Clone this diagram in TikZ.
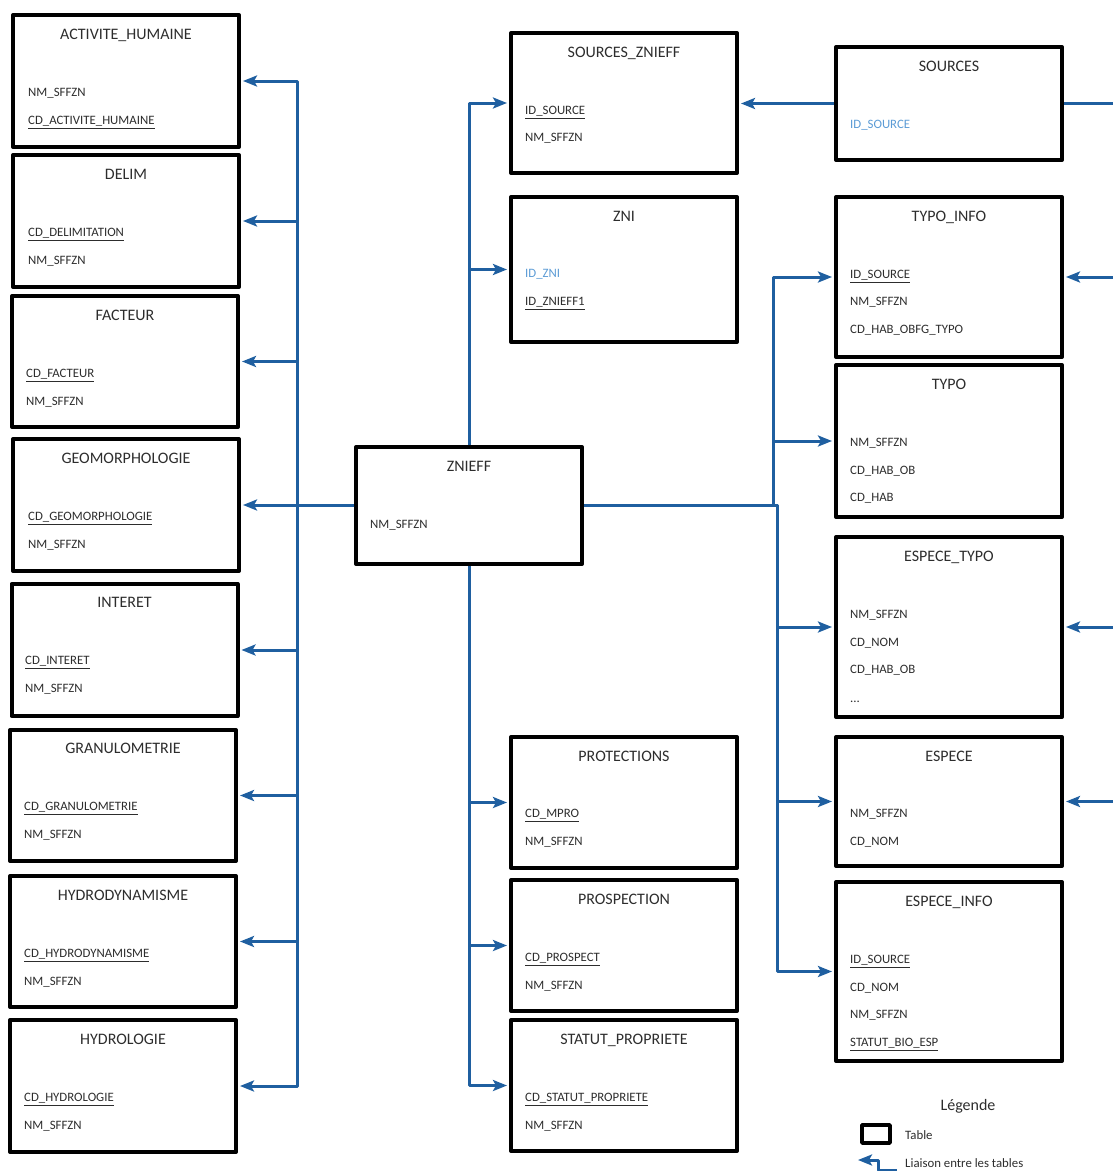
\documentclass[tikz,border=0pt]{standalone}
\usepackage{fontspec}
\setmainfont{Carlito}
\usetikzlibrary{arrows.meta,positioning}
\definecolor{lienbleu}{RGB}{31,95,160}
\definecolor{clebleu}{RGB}{91,155,213}
\definecolor{texte}{RGB}{45,45,45}
\newcommand{\cle}[1]{\underline{#1}}

\begin{document}
\begin{tikzpicture}[x=1pt, y=-1pt, line join=round,
  tbl/.style={draw, line width=4pt, minimum width=226pt, inner sep=0pt},
  ttl/.style={text=texte, font=\fontsize{16}{19}\selectfont, inner sep=0pt, anchor=mid, yshift=-3pt},
  fld/.style={text=texte, font=\fontsize{12.8}{15}\selectfont, inner sep=0pt, anchor=mid west, yshift=-2.5pt},
  kfld/.style={fld, text=clebleu},
  lnk/.style={draw=lienbleu, line width=3pt, -{Stealth[length=14pt,width=11pt,inset=3pt]}, shorten >=2pt},
  bus/.style={draw=lienbleu, line width=3pt}]
\useasboundingbox (0,0) rectangle (1113,1171);

% colonne de gauche
\node[tbl, minimum height=132pt] (act) at (126,81) {};
\node[ttl] (act-t) at (126,34) {ACTIVITE\_HUMAINE};
\node[fld] (act-a) at (28,92) {NM\_SFFZN};
\node[fld] (act-b) at (28,120) {\cle{CD\_ACTIVITE\_HUMAINE}};

\node[tbl, minimum height=132pt] (delim) at (126,221) {};
\node[ttl] (delim-t) at (126,174) {DELIM};
\node[fld] (delim-a) at (28,232) {\cle{CD\_DELIMITATION}};
\node[fld] (delim-b) at (28,260) {NM\_SFFZN};

\node[tbl, minimum height=131pt] (fact) at (125,361.5) {};
\node[ttl] (fact-t) at (125,315) {FACTEUR};
\node[fld] (fact-a) at (26,373) {\cle{CD\_FACTEUR}};
\node[fld] (fact-b) at (26,401) {NM\_SFFZN};

\node[tbl, minimum height=132pt] (geo) at (126,505) {};
\node[ttl] (geo-t) at (126,458) {GEOMORPHOLOGIE};
\node[fld] (geo-a) at (28,516) {\cle{CD\_GEOMORPHOLOGIE}};
\node[fld] (geo-b) at (28,544) {NM\_SFFZN};

\node[tbl, minimum height=132pt] (inter) at (124.5,650) {};
\node[ttl] (inter-t) at (124.5,602) {INTERET};
\node[fld] (inter-a) at (25,660) {\cle{CD\_INTERET}};
\node[fld] (inter-b) at (25,688) {NM\_SFFZN};

\node[tbl, minimum height=131pt] (granu) at (123,795.5) {};
\node[ttl] (granu-t) at (123,748) {GRANULOMETRIE};
\node[fld] (granu-a) at (24,806) {\cle{CD\_GRANULOMETRIE}};
\node[fld] (granu-b) at (24,834) {NM\_SFFZN};

\node[tbl, minimum height=131pt] (hdyn) at (123,941.5) {};
\node[ttl] (hdyn-t) at (123,895) {HYDRODYNAMISME};
\node[fld] (hdyn-a) at (24,953) {\cle{CD\_HYDRODYNAMISME}};
\node[fld] (hdyn-b) at (24,981) {NM\_SFFZN};

\node[tbl, minimum height=132pt] (hlog) at (123,1086) {};
\node[ttl] (hlog-t) at (123,1039) {HYDROLOGIE};
\node[fld] (hlog-a) at (24,1097) {\cle{CD\_HYDROLOGIE}};
\node[fld] (hlog-b) at (24,1125) {NM\_SFFZN};

% colonne du milieu
\node[tbl, minimum height=117pt] (znieff) at (469,505.5) {};
\node[ttl] (znieff-t) at (469,466) {ZNIEFF};
\node[fld] (znieff-a) at (370,524) {NM\_SFFZN};

\node[tbl, minimum height=140pt] (srczn) at (624,103) {};
\node[ttl] (srczn-t) at (624,52) {SOURCES\_ZNIEFF};
\node[fld] (srczn-a) at (525,110) {\cle{ID\_SOURCE}};
\node[fld] (srczn-b) at (525,137) {NM\_SFFZN};

\node[tbl, minimum height=145pt] (zni) at (624,269.5) {};
\node[ttl] (zni-t) at (624,216) {ZNI};
\node[kfld] (zni-a) at (525,273) {ID\_ZNI};
\node[fld] (zni-b) at (525,301) {\cle{ID\_ZNIEFF1}};

\node[tbl, minimum height=131pt] (protec) at (624,802.5) {};
\node[ttl] (protec-t) at (624,756) {PROTECTIONS};
\node[fld] (protec-a) at (525,813) {\cle{CD\_MPRO}};
\node[fld] (protec-b) at (525,841) {NM\_SFFZN};

\node[tbl, minimum height=131pt] (prosp) at (624,945.5) {};
\node[ttl] (prosp-t) at (624,899) {PROSPECTION};
\node[fld] (prosp-a) at (525,957) {\cle{CD\_PROSPECT}};
\node[fld] (prosp-b) at (525,985) {NM\_SFFZN};

\node[tbl, minimum height=131pt] (statut) at (624,1085.5) {};
\node[ttl] (statut-t) at (624,1039) {STATUT\_PROPRIETE};
\node[fld] (statut-a) at (525,1097) {\cle{CD\_STATUT\_PROPRIETE}};
\node[fld] (statut-b) at (525,1125) {NM\_SFFZN};

% colonne de droite
\node[tbl, minimum height=113pt] (sources) at (949,103.5) {};
\node[ttl] (sources-t) at (949,66) {SOURCES};
\node[kfld] (sources-a) at (850,124) {ID\_SOURCE};

\node[tbl, minimum height=160pt] (tinfo) at (949,277) {};
\node[ttl] (tinfo-t) at (949,216) {TYPO\_INFO};
\node[fld] (tinfo-a) at (850,274) {\cle{ID\_SOURCE}};
\node[fld] (tinfo-b) at (850,301) {NM\_SFFZN};
\node[fld] (tinfo-c) at (850,329) {CD\_HAB\_OBFG\_TYPO};

\node[tbl, minimum height=152pt] (typo) at (949,441) {};
\node[ttl] (typo-t) at (949,384) {TYPO};
\node[fld] (typo-a) at (850,442) {NM\_SFFZN};
\node[fld] (typo-b) at (850,470) {CD\_HAB\_OB};
\node[fld] (typo-c) at (850,497) {CD\_HAB};

\node[tbl, minimum height=180pt] (etypo) at (949,627) {};
\node[ttl] (etypo-t) at (949,556) {ESPECE\_TYPO};
\node[fld] (etypo-a) at (850,614) {NM\_SFFZN};
\node[fld] (etypo-b) at (850,642) {CD\_NOM};
\node[fld] (etypo-c) at (850,669) {CD\_HAB\_OB};
\node[fld] (etypo-d) at (850,698) {...};

\node[tbl, minimum height=129pt] (espece) at (949,801.5) {};
\node[ttl] (espece-t) at (949,756) {ESPECE};
\node[fld] (espece-a) at (850,813) {NM\_SFFZN};
\node[fld] (espece-b) at (850,841) {CD\_NOM};

\node[tbl, minimum height=179pt] (einfo) at (949,971.5) {};
\node[ttl] (einfo-t) at (949,901) {ESPECE\_INFO};
\node[fld] (einfo-a) at (850,959) {\cle{ID\_SOURCE}};
\node[fld] (einfo-b) at (850,987) {CD\_NOM};
\node[fld] (einfo-c) at (850,1014) {NM\_SFFZN};
\node[fld] (einfo-d) at (850,1042) {\cle{STATUT\_BIO\_ESP}};

% bus de liaison
\coordinate (busg) at (297,0);
\coordinate (busdh) at (773,0);
\coordinate (busdb) at (777,0);
\coordinate (bord) at (1113,0);

% liaisons a gauche
\foreach \t in {act,delim,fact,geo,inter,granu,hdyn,hlog}
  \draw[lnk] (znieff.west) -- (busg |- znieff.west) |- (\t.east);

% liaisons au milieu
\foreach \t in {srczn,zni}
  \draw[lnk] (znieff.north) |- (\t.west);
\foreach \t in {protec,prosp,statut}
  \draw[lnk] (znieff.south) |- (\t.west);
\draw[lnk] (sources.west) -- (sources.west -| srczn.east);

% liaisons a droite
\foreach \t in {tinfo,typo}
  \draw[lnk] (znieff.east) -| (busdh |- \t.west) -- (\t.west);
\foreach \t in {etypo,espece,einfo}
  \draw[lnk] (znieff.east) -| (busdb |- \t.west) -- (\t.west);
\draw[bus] (sources.east) -- (bord |- sources.east);
\foreach \t in {tinfo,etypo,espece}
  \draw[lnk] (bord |- \t.east) -- (\t.east);

% legende
\node[ttl] (leg) at (968,1105) {Légende};
\node[draw, line width=3.5pt, minimum width=28pt, minimum height=18pt, inner sep=0pt] (legtbl) at (876,1134) {};
\node[fld] (legtbl-t) at (905,1135) {Table};
\coordinate (legA) at (897,1170);
\coordinate (legB) at (858,1160);
\draw[lnk, shorten >=0pt] (legA) -| ([xshift=20pt]legB) -- (legB);
\node[fld] (leglien-t) at (905,1163) {Liaison entre les tables};
\end{tikzpicture}
\end{document}
